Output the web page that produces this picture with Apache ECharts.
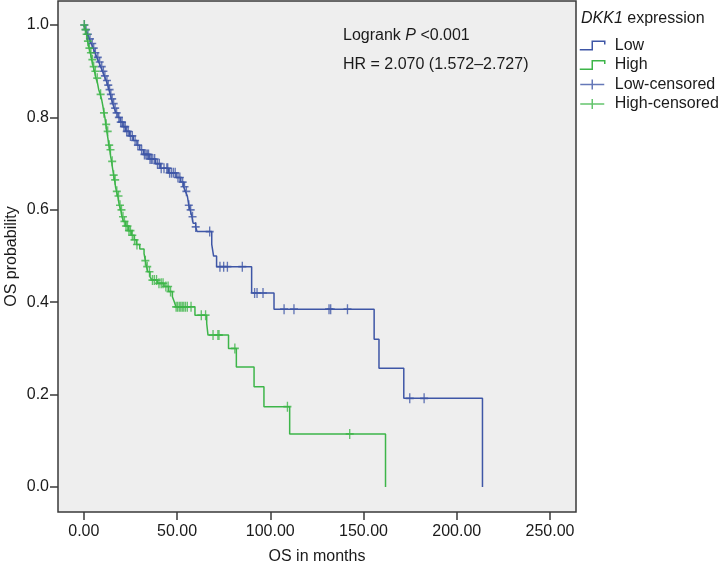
<!DOCTYPE html>
<html>
<head>
<meta charset="utf-8">
<script src="https://cdn.jsdelivr.net/npm/echarts@6/dist/echarts.min.js"></script>
<style>
html,body{margin:0;padding:0;background:#fff;}
#c{width:721px;height:563px;}
</style>
</head>
<body>
<div id="c"></div>
<script>
// ---- data ----
const xTicks = [0, 50, 100, 150, 200, 250];
const yTicks = [0, 0.2, 0.4, 0.6, 0.8, 1.0];

// Low DKK1 expression: event times (months) and survival after each step
const lowTimes = [0, 1, 2, 3, 4, 5, 6, 7, 8, 9, 10, 11, 12, 12.8, 13.5, 14.2, 14.8, 15.5, 16.3, 17.2, 18.3, 19.5, 21, 22.5, 24.5, 26.5, 28.5, 30, 32, 35, 38.5, 41, 45.5, 49.5, 52, 53.5, 54.5, 55.5, 56.3, 57, 58, 58.6, 60, 60.7, 68.6, 69.6, 71.2, 90, 102, 155.7, 158.3, 171.6, 213.8];
const lowSurv  = [1.0, 0.99, 0.98, 0.97, 0.96, 0.95, 0.94, 0.93, 0.92, 0.91, 0.90, 0.89, 0.88, 0.87, 0.86, 0.85, 0.84, 0.83, 0.82, 0.81, 0.80, 0.79, 0.78, 0.77, 0.76, 0.75, 0.74, 0.73, 0.72, 0.71, 0.70, 0.69, 0.68, 0.67, 0.66, 0.65, 0.64, 0.63, 0.61, 0.60, 0.585, 0.571, 0.563, 0.553, 0.525, 0.50, 0.477, 0.42, 0.385, 0.320, 0.257, 0.192, 0.0];
const lowCensorTimes = [0.3, 1.2, 2.2, 3.3, 4.5, 5.3, 6.2, 7.5, 8.5, 9.6, 10.5, 11.3, 12.4, 13.1, 13.8, 14.5, 15.2, 16, 16.8, 17.6, 18.8, 19.8, 20.5, 21.5, 22.2, 23, 23.8, 25, 26, 27.5, 29, 31, 32.5, 33.3, 34, 34.7, 35.5, 36.2, 37, 38, 39.5, 40.5, 41.5, 43, 44.5, 45, 46, 47, 48, 49, 50.5, 51.5, 53, 54, 55, 56.3, 57.3, 58.3, 60, 67.5, 73, 75, 77, 85, 91.6, 92.9, 96.1, 107.4, 112.7, 131.5, 132.4, 141.4, 174.8, 182.5];

// High DKK1 expression
const highTimes = [0, 0.8, 1.5, 2, 2.8, 3.5, 4.2, 5, 5.7, 6.5, 7.3, 8, 8.8, 9.5, 10.2, 10.8, 11.3, 11.8, 12.3, 12.9, 13.4, 13.9, 14.4, 14.9, 15.4, 16, 16.5, 17, 17.5, 18.2, 19, 19.8, 20.5, 21.2, 22.5, 24, 25.5, 27, 28.2, 30, 32.3, 33, 33.6, 34.3, 35.5, 36.5, 39.5, 43, 45.5, 47.5, 48.5, 49.4, 59.6, 65.9, 66.6, 77.6, 81.8, 91.3, 96.6, 110.4, 161.8];
const highSurv  = [1.0, 0.99, 0.98, 0.965, 0.95, 0.94, 0.925, 0.91, 0.90, 0.885, 0.875, 0.86, 0.85, 0.84, 0.825, 0.81, 0.80, 0.785, 0.77, 0.755, 0.74, 0.73, 0.715, 0.705, 0.69, 0.675, 0.665, 0.65, 0.64, 0.63, 0.61, 0.60, 0.585, 0.575, 0.565, 0.555, 0.545, 0.535, 0.525, 0.515, 0.505, 0.49, 0.477, 0.466, 0.455, 0.448, 0.441, 0.434, 0.423, 0.412, 0.401, 0.390, 0.372, 0.354, 0.329, 0.300, 0.260, 0.217, 0.174, 0.115, 0.0];
const highCensorTimes = [0.2, 0.8, 1.5, 2.2, 3, 3.8, 4.6, 5.3, 6.2, 7.2, 9, 10.8, 12, 12.8, 13.6, 14.3, 15.2, 16, 16.8, 17.7, 18.6, 19.4, 20.2, 21, 21.8, 22.6, 23.4, 24.2, 25, 26, 27.2, 28.5, 33, 34, 35.2, 36.8, 37.8, 39, 40.3, 41.5, 42.5, 44, 45.2, 46.5, 49.5, 50.3, 51.2, 52, 52.8, 53.6, 54.5, 55.5, 57.5, 63, 65.3, 69.3, 71.9, 72.5, 81, 109.2, 142.6];

const seriesNames = ['Low', 'High', 'Low-censored', 'High-censored'];
const xName = 'OS in months';
const yName = 'OS probability';
const statText2 = 'HR = 2.070 (1.572\u20132.727)';

// ---- build ----
const FONT = "'Liberation Sans', Arial, Helvetica, sans-serif";
const BLUE = '#3E56A6';
const GREEN = '#3DB549';
const TXT = '#1a1a1a';
const AX = '#3a3a3a';

function survAt(times, surv, t) {
  let s = surv[0];
  for (let i = 0; i < times.length; i++) { if (times[i] <= t) s = surv[i]; else break; }
  return s;
}
const lowLine = lowTimes.map((t, i) => [t, lowSurv[i]]);
const highLine = highTimes.map((t, i) => [t, highSurv[i]]);
const lowCens = lowCensorTimes.map(t => [t, survAt(lowTimes, lowSurv, t)]);
const highCens = highCensorTimes.map(t => [t, survAt(highTimes, highSurv, t)]);

const stepIcon = 'path://M0,9L12,9L12,1L24,1L24,4';
const plusIcon = 'path://M0,5L24,5M12,0L12,10';
const censorSymbol = 'path://M0,5L10,5M5,0L5,10';

const chart = echarts.init(document.getElementById('c'), null, {renderer: 'canvas'});
chart.setOption({
  animation: false,
  backgroundColor: '#ffffff',
  grid: {
    left: 58, right: 145, top: 1, bottom: 51,
    outerBoundsMode: 'none', containLabel: false,
    show: true, backgroundColor: '#EEEEEE', borderColor: AX, borderWidth: 1.5
  },
  xAxis: {
    type: 'value', min: -13.85, max: 263.96,
    name: xName, nameLocation: 'middle', nameGap: 37, nameMoveOverlap: false,
    nameTextStyle: {fontFamily: FONT, fontSize: 16, color: TXT},
    axisLine: {show: false, onZero: false},
    splitLine: {show: false},
    axisTick: {show: true, inside: false, length: 8, customValues: xTicks, lineStyle: {color: AX, width: 1.5}},
    axisLabel: {customValues: xTicks, margin: 12, fontFamily: FONT, fontSize: 16, color: TXT,
      formatter: v => v.toFixed(2)}
  },
  yAxis: {
    type: 'value', min: -0.054, max: 1.052,
    name: yName, nameLocation: 'middle', nameGap: 38, nameRotate: 90, nameMoveOverlap: false,
    nameTextStyle: {fontFamily: FONT, fontSize: 16, color: TXT},
    axisLine: {show: false, onZero: false},
    splitLine: {show: false},
    axisTick: {show: true, inside: false, length: 8, customValues: yTicks, lineStyle: {color: AX, width: 1.5}},
    axisLabel: {customValues: yTicks, margin: 9, fontFamily: FONT, fontSize: 16, color: TXT,
      formatter: v => v.toFixed(1)}
  },
  legend: {
    orient: 'vertical', left: 579, top: 36, padding: 0,
    itemWidth: 25, itemHeight: 10, itemGap: 0.5,
    textStyle: {fontFamily: FONT, fontSize: 16, color: TXT, lineHeight: 19, padding: [0, 0, 0, 5]},
    data: [
      {name: seriesNames[0], icon: stepIcon, itemStyle: {color: 'transparent', borderColor: BLUE, borderWidth: 1.5}},
      {name: seriesNames[1], icon: stepIcon, itemStyle: {color: 'transparent', borderColor: GREEN, borderWidth: 1.5}},
      {name: seriesNames[2], icon: plusIcon, itemStyle: {color: 'transparent', borderColor: BLUE, borderWidth: 1.5}},
      {name: seriesNames[3], icon: plusIcon, itemStyle: {color: 'transparent', borderColor: GREEN, borderWidth: 1.5}}
    ]
  },
  graphic: [
    {type: 'text', left: 581, top: 11, style: {
      text: '{i|DKK1} expression', fontFamily: FONT, fontSize: 16, fill: TXT,
      rich: {i: {fontStyle: 'italic', fontFamily: FONT, fontSize: 16, fill: TXT}}
    }},
    {type: 'text', left: 343, top: 28, style: {
      text: 'Logrank {i|P} <0.001', fontFamily: FONT, fontSize: 16, fill: TXT,
      rich: {i: {fontStyle: 'italic', fontFamily: FONT, fontSize: 16, fill: TXT}}
    }},
    {type: 'text', left: 343, top: 57, style: {
      text: statText2, fontFamily: FONT, fontSize: 16, fill: TXT
    }}
  ],
  series: [
    {name: seriesNames[0], type: 'line', step: 'end', data: lowLine, showSymbol: false, symbol: 'none',
      lineStyle: {color: BLUE, width: 1.5}, itemStyle: {color: BLUE}, silent: true, z: 3},
    {name: seriesNames[1], type: 'line', step: 'end', data: highLine, showSymbol: false, symbol: 'none',
      lineStyle: {color: GREEN, width: 1.5}, itemStyle: {color: GREEN}, silent: true, z: 2},
    {name: seriesNames[2], type: 'scatter', data: lowCens, symbol: censorSymbol, symbolSize: [8, 10],
      itemStyle: {color: 'transparent', borderColor: BLUE, borderWidth: 1.5}, silent: true, z: 4},
    {name: seriesNames[3], type: 'scatter', data: highCens, symbol: censorSymbol, symbolSize: [8, 10],
      itemStyle: {color: 'transparent', borderColor: GREEN, borderWidth: 1.5}, silent: true, z: 4}
  ]
});
</script>
</body>
</html>
